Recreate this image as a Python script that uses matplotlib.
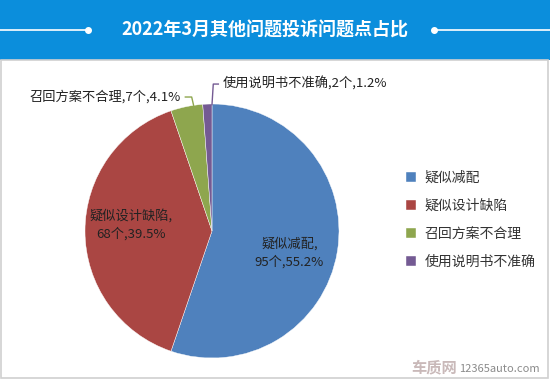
import numpy as np
import matplotlib.pyplot as plt
from matplotlib.patches import Rectangle

plt.rcParams['font.family'] = ['Noto Sans CJK SC', 'DejaVu Sans']

# data
categories = ['疑似减配', '疑似设计缺陷', '召回方案不合理', '使用说明书不准确']
counts = [95, 68, 7, 2]
shares = [55.2, 39.5, 4.1, 1.2]
colors = ['#4F81BD', '#AA4643', '#8EA64E', '#745A93']

W, H = 550, 380
fig = plt.figure(figsize=(W / 100, H / 100), dpi=100)

# header band + frame
fig.patches.append(Rectangle((0, (H - 60) / H), 1, 60 / H, transform=fig.transFigure,
                             facecolor='#0B8EDC', edgecolor='none', zorder=0))
fig.patches.append(Rectangle((0.5 / W, 2 / H), (W - 3) / W, (H - 62) / H, transform=fig.transFigure,
                             facecolor='none', edgecolor='#D0D0D0', lw=1.2, zorder=0))
yt = (H - 30) / H
fig.add_artist(plt.Line2D([0, 88 / W], [yt, yt], color='white', lw=1.2))
fig.add_artist(plt.Line2D([434 / W, 1], [yt, yt], color='white', lw=1.2))
fig.add_artist(plt.Line2D([88 / W], [yt], marker='o', ms=4, color='white'))
fig.add_artist(plt.Line2D([434 / W], [yt], marker='o', ms=4, color='white'))
fig.text(265 / W, yt, '2022年3月其他问题投诉问题点占比', color='white', fontsize=13,
         fontweight='bold', ha='center', va='center')

# pie
cx, cy, r = 212, 231, 127
ax = fig.add_axes([(cx - r) / W, (H - cy - r) / H, 2 * r / W, 2 * r / H])
wedges, _ = ax.pie(counts, colors=colors, startangle=90, counterclock=False,
                   wedgeprops=dict(linewidth=0.3, edgecolor='white'))
ax.set_xlim(-1, 1)
ax.set_ylim(-1, 1)
ax.set_aspect('equal')

fs = 9.5
ax.text(0.61, -0.17, f'{categories[0]},\n{counts[0]}个,{shares[0]}%', ha='center', va='center',
        fontsize=fs, color='#222222', linespacing=1.4)
ax.text(-0.64, 0.05, f'{categories[1]},\n{counts[1]}个,{shares[1]}%', ha='center', va='center',
        fontsize=fs, color='#222222', linespacing=1.4)

# outside labels with leader lines
ax.text(-0.25, 1.055, f'{categories[2]},{counts[2]}个,{shares[2]}%', ha='right', va='center',
        fontsize=fs, color='#222222')
ax.plot([-0.21, -0.16, -0.145], [1.055, 1.055, 0.99], color=colors[2], lw=1, clip_on=False)
ax.text(0.087, 1.157, f'{categories[3]},{counts[3]}个,{shares[3]}%', ha='left', va='center',
        fontsize=fs, color='#222222')
ax.plot([0.05, 0.01, 0.0], [1.157, 1.157, 0.995], color=colors[3], lw=1, clip_on=False)

# legend
fig.legend(wedges, categories, loc='center left', bbox_to_anchor=(393 / W, (H - 220) / H),
           frameon=False, fontsize=10, handlelength=0.75, handleheight=0.75,
           labelspacing=1.0, handletextpad=0.6, labelcolor='#333333')

# watermark
fig.text(457 / W, 5 / H, '车质网', color='#C9B9B9', fontsize=11, fontweight='bold', ha='right', va='bottom')
fig.text(459 / W, 6 / H, '12365auto.com', color='#8A8A8A', fontsize=8, ha='left', va='bottom')

fig.savefig('out.png', dpi=100)
